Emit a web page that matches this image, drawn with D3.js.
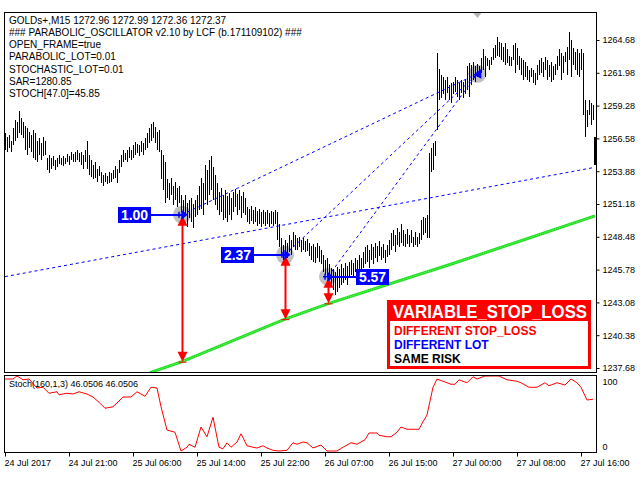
<!DOCTYPE html>
<html lang="en">
  <head>
    <meta charset="UTF-8" />
    <meta name="viewport" content="width=device-width, initial-scale=1.0" />
    <title>GOLDs+ M15</title>

    <style>
      body {
        margin: 0;
        background-color: #fff;
      }
      svg {
        display: block;
        font-family: "Liberation Sans", Arial, sans-serif;
      }
      .bar {
        stroke: #000;
        shape-rendering: crispEdges;
      }
      .axis text {
        font-size: 9px;
        fill: #000;
      }
      .axis line {
        stroke: #000;
      }
    </style>
  </head>

  <body>
    <div class="container"></div>

    <script src="https://d3js.org/d3.v7.min.js"></script>
    <script>
      //~~~ bars (M15)
      const highs = [
        1257.0, 1256.7, 1256.9, 1256.4, 1257.4, 1258.1, 1257.9, 1258.8, 1258.3, 1257.9,
        1257.6, 1257.4, 1257.1, 1256.9, 1257.3, 1257.0, 1256.4, 1256.6, 1256.2, 1256.7,
        1256.4, 1255.0, 1255.2, 1255.0, 1255.1, 1254.8, 1255.0, 1255.2, 1255.0, 1255.1,
        1255.0, 1255.3, 1255.1, 1255.5, 1255.3, 1255.5, 1255.6, 1255.4, 1255.5, 1255.2,
        1255.6, 1256.4, 1255.2, 1254.8, 1254.4, 1254.6, 1254.1, 1254.3, 1253.8, 1253.6,
        1253.7, 1253.5, 1253.8, 1253.7, 1254.0, 1254.3, 1254.1, 1254.8, 1255.2, 1255.6,
        1255.4, 1255.6, 1255.9, 1255.6, 1256.0, 1256.3, 1256.1, 1256.0, 1256.4, 1256.2,
        1256.6, 1257.0, 1257.4, 1257.8, 1257.9, 1257.5, 1257.1, 1257.3, 1255.6, 1255.2,
        1254.6, 1253.2, 1252.9, 1253.3, 1252.7, 1253.0, 1252.5, 1252.7, 1251.9, 1251.5,
        1251.9, 1251.3, 1251.5, 1251.7, 1251.2, 1251.5, 1251.9, 1252.7, 1253.3, 1252.9,
        1254.4, 1254.0, 1254.8, 1255.1, 1254.2, 1253.6, 1252.9, 1252.2, 1252.5, 1251.9,
        1252.3, 1251.8, 1252.1, 1251.7, 1252.2, 1252.4, 1252.0, 1252.3, 1251.8, 1252.2,
        1251.7, 1250.9, 1250.8, 1251.0, 1250.7, 1250.9, 1250.6, 1250.8, 1250.5, 1250.7,
        1250.5, 1250.7, 1250.4, 1250.6, 1250.5, 1250.7, 1250.5, 1249.5, 1248.4, 1247.8,
        1248.2, 1248.0, 1248.6, 1248.2, 1248.9, 1248.6, 1248.4, 1248.5, 1248.2, 1248.4,
        1248.1, 1248.3, 1248.0, 1247.7, 1247.9, 1247.6, 1248.0, 1247.7, 1247.4, 1247.0,
        1246.6, 1246.7, 1246.2, 1245.9, 1245.8, 1245.6, 1246.0, 1245.8, 1246.2, 1245.9,
        1246.3, 1246.1, 1246.4, 1246.6, 1246.3, 1246.7, 1246.6, 1247.0, 1246.7, 1247.2,
        1247.6, 1247.8, 1247.4, 1247.9, 1247.6, 1248.0, 1247.7, 1248.1, 1247.6, 1247.9,
        1247.4, 1247.8, 1248.2, 1248.8, 1249.0, 1248.6, 1249.2, 1248.9, 1249.5, 1249.0,
        1248.7, 1249.1, 1248.6, 1249.0, 1248.5, 1248.9, 1248.5, 1248.8, 1249.9, 1250.1,
        1250.0, 1250.3, 1255.4, 1255.8, 1256.2, 1256.4, 1263.6, 1262.3, 1261.8, 1261.6,
        1261.4, 1261.6, 1261.0, 1261.1, 1261.2, 1261.6, 1261.4, 1261.1, 1261.4, 1261.2,
        1261.4, 1262.5, 1262.8, 1262.6, 1262.9, 1262.5, 1262.7, 1262.5, 1263.2, 1263.9,
        1263.4, 1263.2, 1263.0, 1263.3, 1264.0, 1264.3, 1264.9, 1264.5, 1264.4, 1264.1,
        1264.4, 1263.9, 1263.4, 1263.3, 1264.3, 1264.4, 1264.0, 1263.4, 1263.2, 1263.0,
        1262.9, 1262.5, 1262.2, 1262.4, 1262.2, 1262.0, 1262.6, 1263.0, 1263.2, 1262.9,
        1263.3, 1263.0, 1262.6, 1262.9, 1262.5, 1262.7, 1263.4, 1263.9, 1263.6, 1263.4,
        1263.7, 1264.1, 1265.3, 1264.7, 1264.0, 1263.7, 1263.9, 1263.6, 1263.9, 1263.6,
        1259.7, 1258.9, 1259.7, 1259.5, 1259.3, 1256.7
      ];
      const lows = [
        1255.6, 1255.5, 1255.8, 1255.5, 1256.0, 1256.4, 1256.6, 1257.0, 1256.9, 1256.6,
        1255.6, 1255.2, 1255.8, 1255.5, 1255.0, 1254.8, 1254.6, 1255.2, 1254.8, 1255.1,
        1255.2, 1254.0, 1253.7, 1254.1, 1254.3, 1254.0, 1254.2, 1254.5, 1254.4, 1254.3,
        1254.5, 1254.6, 1254.4, 1254.8, 1254.6, 1254.6, 1254.8, 1254.6, 1254.4, 1254.1,
        1254.6, 1254.1, 1253.6, 1253.4, 1253.2, 1253.3, 1253.0, 1253.5, 1252.9, 1252.7,
        1253.0, 1252.8, 1252.9, 1253.0, 1253.2, 1253.3, 1252.9, 1253.7, 1254.2, 1254.6,
        1254.8, 1254.6, 1255.0, 1254.8, 1255.0, 1255.2, 1255.4, 1255.1, 1255.5, 1255.2,
        1255.6, 1255.8, 1256.2, 1256.4, 1256.6, 1256.2, 1255.6, 1255.5, 1253.2, 1252.3,
        1251.3, 1251.7, 1251.5, 1251.9, 1251.1, 1251.5, 1250.9, 1251.3, 1250.5, 1249.9,
        1250.3, 1249.3, 1250.0, 1249.7, 1249.2, 1250.1, 1250.3, 1250.7, 1250.8, 1250.3,
        1251.5, 1251.1, 1251.9, 1252.3, 1251.5, 1251.1, 1250.7, 1250.3, 1250.5, 1249.9,
        1250.0, 1249.7, 1250.3, 1249.9, 1250.5, 1250.9, 1250.3, 1250.7, 1250.0, 1250.4,
        1250.3, 1249.7, 1249.5, 1249.8, 1249.5, 1249.7, 1249.4, 1249.5, 1249.3, 1249.5,
        1249.4, 1249.5, 1249.3, 1249.5, 1249.4, 1249.5, 1248.2, 1247.6, 1247.0, 1246.6,
        1246.8, 1246.7, 1247.2, 1247.0, 1247.6, 1247.4, 1247.4, 1247.6, 1247.2, 1247.4,
        1247.2, 1247.3, 1246.9, 1246.6, 1246.4, 1246.3, 1246.7, 1246.4, 1246.2, 1245.6,
        1245.3, 1245.2, 1244.9, 1244.5, 1244.1, 1243.7, 1243.9, 1244.3, 1244.5, 1244.7,
        1244.9, 1244.5, 1245.1, 1245.3, 1245.2, 1245.6, 1245.3, 1245.8, 1245.6, 1245.9,
        1246.2, 1246.4, 1245.9, 1246.6, 1246.2, 1246.7, 1246.4, 1246.9, 1246.6, 1246.7,
        1246.3, 1246.8, 1247.0, 1247.4, 1247.7, 1247.2, 1247.8, 1247.6, 1248.0, 1247.7,
        1247.6, 1247.9, 1247.6, 1248.0, 1247.6, 1247.8, 1247.6, 1247.9, 1248.2, 1248.6,
        1248.8, 1248.4, 1248.4, 1253.8, 1254.0, 1255.1, 1257.3, 1259.7, 1259.9, 1260.2,
        1259.7, 1260.3, 1259.7, 1259.5, 1260.2, 1260.4, 1260.0, 1259.7, 1260.3, 1259.9,
        1260.2, 1260.6, 1260.0, 1261.0, 1261.4, 1261.2, 1261.6, 1261.7, 1262.0, 1262.2,
        1261.6, 1262.5, 1262.2, 1262.6, 1263.0, 1263.2, 1263.4, 1263.3, 1263.0, 1262.9,
        1262.6, 1262.8, 1262.5, 1262.5, 1263.0, 1262.0, 1262.6, 1262.2, 1261.8, 1261.4,
        1261.6, 1261.4, 1261.2, 1261.6, 1261.1, 1261.0, 1261.4, 1261.8, 1262.0, 1261.6,
        1262.2, 1261.4, 1261.6, 1261.2, 1261.4, 1261.8, 1262.2, 1262.5, 1261.4, 1262.0,
        1262.9, 1261.8, 1263.0, 1261.6, 1262.6, 1262.2, 1261.8, 1261.6, 1262.2, 1258.5,
        1256.7, 1257.5, 1258.5, 1257.7, 1258.1, 1254.4
      ];

      const priceTicks = [1237.68, 1240.38, 1243.08, 1245.78, 1248.48, 1251.18, 1253.88, 1256.58, 1259.28, 1261.98, 1264.68];
      const timeBars = [0, 32, 64, 96, 128, 160, 192, 224, 256, 288];
      const timeLabels = [
        "24 Jul 2017", "24 Jul 21:00", "25 Jul 06:00", "25 Jul 14:00", "25 Jul 22:00",
        "26 Jul 07:00", "26 Jul 15:00", "27 Jul 00:00", "27 Jul 08:00", "27 Jul 16:00"
      ];

      //~~~ Stoch(160,1,3) main line
      const stochBars = [0, 4, 6, 9, 12, 16, 19, 22, 26, 27, 31, 34, 37, 41, 44, 47, 50, 54, 56, 59,
        63, 66, 70, 73, 76, 78, 81, 85, 88, 91, 92, 95, 98, 101, 104, 107, 109, 111, 113, 116,
        118, 121, 124, 126, 129, 131, 134, 137, 141, 144, 146, 149, 151, 154, 158, 161, 166, 169, 173, 176,
        180, 182, 186, 187, 191, 193, 196, 198, 201, 204, 207, 209, 211, 214, 216, 219, 223, 225, 227, 231,
        234, 236, 240, 247, 251, 256, 258, 262, 266, 270, 272, 276, 280, 283, 286, 288, 291, 294];
      const stochVals = [96, 96, 100, 95, 96, 84, 85, 77, 79, 75, 77, 76, 79, 76, 72, 65, 57, 59, 64, 72,
        72, 79, 73, 85, 84, 59, 28, 25, 0, 5, 9, 5, 32, 19, 45, 5, 3, 11, 5, 12,
        23, 7, 5, 4, 7, 4, 1, 0, 1, 11, 9, 12, 11, 4, 8, 0, 0, 5, 11, 9,
        15, 24, 24, 21, 19, 19, 25, 32, 29, 29, 29, 39, 48, 85, 96, 93, 89, 89, 95, 91,
        99, 96, 100, 100, 95, 93, 91, 85, 85, 91, 87, 91, 88, 96, 91, 85, 68, 69];
      const stochTicks = [0, 100];

      const headerLines = [
        "GOLDs+,M15  1272.96 1272.99 1272.36 1272.37",
        "### PARABOLIC_OSCILLATOR v2.10 by LCF (b.171109102) ###",
        "OPEN_FRAME=true",
        "PARABOLIC_LOT=0.01",
        "STOCHASTIC_LOT=0.01",
        "SAR=1280.85",
        "STOCH[47.0]=45.85"
      ];
      const stochTitle = "Stoch(160,1,3) 46.0506 46.0506";

      //~~~ drawn objects: [bar, price] pairs
      const trendLines = [
        [[0, 1245.2], [295, 1254.2]],
        [[88.5, 1250.3], [236.2, 1261.9]],
        [[140, 1247.0], [236.2, 1261.9]],
        [[161.5, 1245.2], [236.2, 1261.9]]
      ];
      const greenBars = [72.5, 88.5, 140, 162, 222.5, 295];
      const greenPrices = [1237.3, 1238.2, 1241.7, 1243.0, 1246.2, 1250.2];

      const entryBars = [88.5, 140, 161.5];
      const entryPrices = [1250.3, 1247.0, 1245.2];
      const stopPrices = [1238.2, 1241.7, 1243.0];
      const lotLabels = ["1.00", "2.37", "5.57"];
      const exitBar = 236.2;
      const exitPrice = 1261.9;

      const legendTitle = "VARIABLE_STOP_LOSS";
      const legendLines = ["DIFFERENT STOP_LOSS", "DIFFERENT LOT", "SAME RISK"];
      const legendColors = ["#ff0000", "#0000ff", "#000000"];

      //~~~ layout
      const w = 640;
      const h = 480;
      const padL = 4, padR = 596;
      const mainTop = 12, mainBottom = 372;
      const stochTop = 375, stochBottom = 452;

      const xScale = d3.scaleLinear().domain([0, 295]).range([5, 595]);
      const yScale = d3.scaleLinear().domain([1237.68, 1264.68]).range([368, 40]);
      const sScale = d3.scaleLinear().domain([0, 100]).range([451, 376]);

      const svg = d3.select(".container")
                    .append("svg")
                    .attr("width", w)
                    .attr("height", h);

      svg.append("rect").attr("width", w).attr("height", h).attr("fill", "#fff");

      svg.append("clipPath").attr("id", "mainClip")
         .append("rect")
         .attr("x", padL).attr("y", mainTop)
         .attr("width", padR - padL).attr("height", mainBottom - mainTop);

      const main = svg.append("g").attr("clip-path", "url(#mainClip)");

      // grey circles under the bars
      const pts = entryBars.map((b, i) => [xScale(b), yScale(entryPrices[i])]);
      const exitPt = [xScale(exitBar), yScale(exitPrice)];

      main.selectAll("circle.mark")
          .data(pts.concat([exitPt]))
          .enter().append("circle")
          .attr("class", "mark")
          .attr("cx", d => d[0]).attr("cy", d => d[1])
          .attr("r", 9)
          .attr("fill", "#c0c0c0");

      // bars
      const lastBar = highs.length - 1;
      main.selectAll("line.bar")
          .data(highs)
          .enter().append("line")
          .attr("class", "bar")
          .attr("x1", (d, i) => Math.round(xScale(i)) + (i === lastBar ? 0 : 0.5))
          .attr("x2", (d, i) => Math.round(xScale(i)) + (i === lastBar ? 0 : 0.5))
          .attr("y1", d => yScale(d))
          .attr("y2", (d, i) => yScale(lows[i]))
          .attr("stroke-width", (d, i) => i === lastBar ? 3 : 1);

      // trend lines
      const tl = d3.line().x(d => xScale(d[0])).y(d => yScale(d[1]));
      main.selectAll("path.trend")
          .data(trendLines)
          .enter().append("path")
          .attr("class", "trend")
          .attr("d", tl)
          .attr("fill", "none")
          .attr("stroke", "#0000ff")
          .attr("stroke-width", 1)
          .attr("stroke-dasharray", "3,3");

      // green stop line
      const gl = d3.line().x((d, i) => xScale(greenBars[i])).y(d => yScale(d));
      main.append("path")
          .attr("d", gl(greenPrices))
          .attr("fill", "none")
          .attr("stroke", "#22dd22")
          .attr("stroke-width", 3);
      main.append("path")
          .attr("d", gl(greenPrices))
          .attr("fill", "none")
          .attr("stroke", "#66ff66")
          .attr("stroke-width", 1)
          .attr("stroke-dasharray", "1,1");

      // red stop-loss arrows
      pts.forEach((p, i) => {
        const x = Math.round(p[0]) + 0.5;
        const y1 = p[1] + 1;
        const y2 = yScale(stopPrices[i]);
        const g = main.append("g").attr("fill", "#ff0000").attr("stroke", "#ff0000");
        g.append("line").attr("x1", x).attr("x2", x)
         .attr("y1", y1 + 9).attr("y2", y2 - 9).attr("stroke-width", 2);
        g.append("path").attr("stroke", "none")
         .attr("d", `M${x},${y1} L${x + 5},${y1 + 10} L${x - 5},${y1 + 10} Z`);
        g.append("path").attr("stroke", "none")
         .attr("d", `M${x},${y2} L${x + 5},${y2 - 10} L${x - 5},${y2 - 10} Z`);
        g.append("line").attr("x1", x - 4).attr("x2", x + 4)
         .attr("y1", y2 + 0.5).attr("y2", y2 + 0.5).attr("stroke-width", 1);
      });

      // lot labels
      pts.forEach((p, i) => {
        const onRight = i === pts.length - 1;
        const bx = onRight ? p[0] + 28 : p[0] - 64;
        const by = Math.round(p[1]) - 8;
        main.append("line")
            .attr("x1", onRight ? bx : bx + 33).attr("x2", p[0])
            .attr("y1", by + 8).attr("y2", by + 8)
            .attr("stroke", "#0000ff").attr("stroke-width", 2);
        main.append("rect")
            .attr("x", bx).attr("y", by)
            .attr("width", 33).attr("height", 16)
            .attr("fill", "#0000ff");
        main.append("text")
            .attr("x", bx + 16.5).attr("y", by + 13)
            .attr("text-anchor", "middle")
            .attr("font-size", 14).attr("font-weight", "bold")
            .attr("fill", "#fff")
            .text(lotLabels[i]);
        // entry marker
        main.append("path")
            .attr("d", `M${p[0] - 5},${p[1]} h6 M${p[0]},${p[1] - 3.5} l4.5,3.5 l-4.5,3.5 z M${p[0] - 3},${p[1] - 3} v6`)
            .attr("stroke", "#0000ff").attr("stroke-width", 1.5).attr("fill", "#0000ff");
      });

      // exit marker and top arrow
      main.append("path")
          .attr("d", `M${exitPt[0] + 4},${exitPt[1] - 5} L${exitPt[0] - 4},${exitPt[1] + 1} L${exitPt[0] + 4},${exitPt[1] + 5} Z`)
          .attr("fill", "#0000ff");
      main.append("path")
          .attr("d", `M${exitPt[0] - 4},${mainTop + 1} L${exitPt[0] + 4},${mainTop + 1} L${exitPt[0]},${mainTop + 6} Z`)
          .attr("fill", "#b4b4b4");

      // header comment
      svg.append("g").selectAll("text")
         .data(headerLines)
         .enter().append("text")
         .attr("x", 9)
         .attr("y", (d, i) => 24 + i * 12.15)
         .attr("font-size", 10)
         .attr("fill", "#000")
         .text(d => d);

      // legend box
      const lg = svg.append("g");
      lg.append("rect").attr("x", 387).attr("y", 300).attr("width", 204).attr("height", 69).attr("fill", "#ff0000");
      lg.append("rect").attr("x", 390).attr("y", 321).attr("width", 198).attr("height", 45).attr("fill", "#fff");
      lg.append("text").attr("x", 393).attr("y", 318)
        .attr("font-size", 17.5).attr("font-weight", "bold").attr("fill", "#fff")
        .attr("textLength", 194).attr("lengthAdjust", "spacingAndGlyphs")
        .text(legendTitle);
      lg.selectAll("text.ll")
        .data(legendLines)
        .enter().append("text")
        .attr("class", "ll")
        .attr("x", 394)
        .attr("y", (d, i) => 335 + i * 14)
        .attr("font-size", 12).attr("font-weight", "bold")
        .attr("fill", (d, i) => legendColors[i])
        .text(d => d);

      //~~~ stochastic window
      const sl = d3.line().x((d, i) => xScale(stochBars[i])).y(d => sScale(d));
      svg.append("path")
         .attr("d", sl(stochVals))
         .attr("fill", "none")
         .attr("stroke", "#ff0000")
         .attr("stroke-width", 1);

      svg.append("text")
         .attr("x", 9).attr("y", 387)
         .attr("font-size", 9).attr("fill", "#000")
         .text(stochTitle);

      // frames
      svg.append("rect")
         .attr("x", padL + 0.5).attr("y", mainTop + 0.5)
         .attr("width", padR - padL).attr("height", mainBottom - mainTop)
         .attr("fill", "none").attr("stroke", "#000");
      svg.append("rect")
         .attr("x", padL + 0.5).attr("y", stochTop + 0.5)
         .attr("width", padR - padL).attr("height", stochBottom - stochTop)
         .attr("fill", "none").attr("stroke", "#000");

      //~~~ axes
      const yAxis = d3.axisRight(yScale)
                      .tickValues(priceTicks)
                      .tickSize(3)
                      .tickFormat(d3.format(".2f"));
      svg.append("g")
         .attr("class", "axis")
         .attr("transform", "translate(" + (padR + 0.5) + ",0)")
         .call(yAxis)
         .call(g => g.select(".domain").remove());

      const sAxis = d3.axisRight(sScale)
                      .tickValues(stochTicks)
                      .tickSize(0)
                      .tickPadding(6);
      svg.append("g")
         .attr("class", "axis")
         .attr("transform", "translate(" + (padR + 0.5) + ",0)")
         .call(sAxis)
         .call(g => g.select(".domain").remove())
         .call(g => g.selectAll("text").attr("dy", d => d === 100 ? "0.98em" : "-0.22em"));

      const xAxis = d3.axisBottom(xScale)
                      .tickValues(timeBars)
                      .tickSize(4)
                      .tickFormat((d, i) => timeLabels[i]);
      svg.append("g")
         .attr("class", "axis")
         .attr("transform", "translate(0," + (stochBottom + 0.5) + ")")
         .call(xAxis)
         .call(g => g.select(".domain").remove())
         .call(g => g.selectAll("text").attr("text-anchor", "start").attr("x", -1));
    </script>
  </body>
</html>
